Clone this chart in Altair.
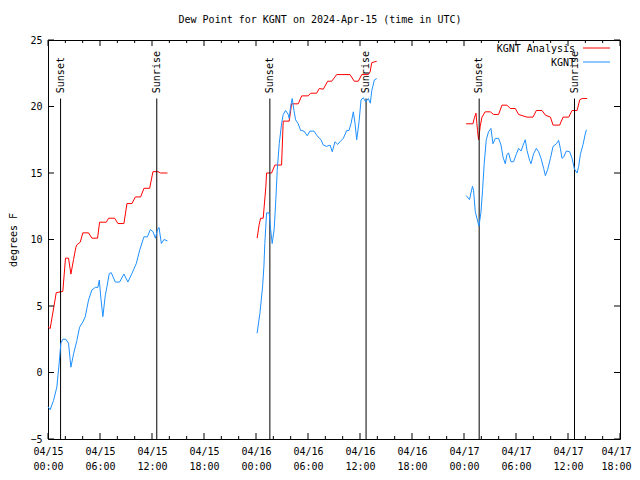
import altair as alt
import pandas as pd

# ---- data (hours after 2024-04-15 00:00 UTC, dew point in F) ----
analysis_hours = [0.0, 0.25, 0.95, 1.71, 2.02, 2.37, 2.64, 2.95, 3.21, 3.33, 3.72, 4.02, 4.68, 5.06, 5.72, 5.95,
                  6.73, 6.99, 7.69, 8.07, 8.76, 9.11, 9.69, 10.08, 10.69, 11.07, 11.73, 12.11, 12.69, 13.0, 13.78,
                  24.13, 24.36, 24.53, 24.83, 25.14, 25.22, 25.80, 26.18, 26.95, 27.14, 27.83, 28.11, 28.87, 29.27,
                  30.03, 30.31, 31.0, 31.30, 31.76, 32.27, 32.73, 33.31, 34.85, 35.34, 35.81, 36.20, 36.96, 37.16,
                  37.36, 37.93,
                  48.25, 49.03, 49.18, 49.38, 49.49, 49.56, 49.68, 49.87, 50.07, 50.45, 51.03, 51.41, 51.99, 52.38,
                  52.96, 53.34, 53.92, 54.30, 55.27, 55.96, 56.35, 57.0, 57.39, 57.97, 58.28, 59.04, 59.43, 60.08,
                  60.47, 61.05, 61.35, 61.63, 62.21]
analysis_dewpt = [3.45, 3.3, 6.0, 6.1, 8.6, 8.6, 7.4, 8.5, 9.4, 9.6, 9.8, 10.5, 10.5, 10.1, 10.1, 11.3,
                  11.3, 11.6, 11.6, 11.2, 11.2, 12.7, 12.7, 13.2, 13.2, 13.85, 13.85, 15.1, 15.1, 15.0, 15.0,
                  10.1, 11.1, 11.6, 11.6, 14.0, 15.0, 15.0, 15.6, 15.6, 18.9, 18.9, 20.2, 20.2, 20.8,
                  20.8, 21.0, 21.0, 21.35, 21.3, 21.9, 21.9, 22.4, 22.4, 21.9, 21.9, 22.4, 22.4, 22.6,
                  23.3, 23.4,
                  18.7, 18.7, 19.1, 19.5, 18.7, 18.2, 17.5, 18.5, 19.2, 19.6, 19.6, 19.4, 19.4, 20.1,
                  20.1, 19.85, 19.85, 19.4, 19.2, 19.2, 19.7, 19.7, 19.35, 19.2, 18.6, 18.6, 19.2, 19.2,
                  19.7, 19.7, 20.5, 20.6, 20.6]

obs_hours = [0.0, 0.25, 0.64, 1.02, 1.29, 1.48, 1.71, 2.06, 2.37, 2.64, 2.95, 3.33, 3.64, 4.02, 4.30, 4.68,
             5.06, 5.46, 5.76, 5.92, 6.10, 6.33, 6.61, 6.80, 7.07, 7.30, 7.77, 8.26, 8.76, 9.22, 9.69, 10.19,
             10.58, 11.07, 11.47, 11.81, 12.11, 12.39, 12.62, 12.81, 13.08, 13.38, 13.78,
             24.13, 24.45, 24.76, 24.91, 25.02, 25.22, 25.52, 25.68, 25.87, 26.10, 26.29, 26.45, 26.68, 26.95,
             27.14, 27.42, 27.72, 27.83, 27.99, 28.18, 28.38, 28.57, 28.87, 29.15, 29.53, 29.91, 30.22, 30.69,
             31.0, 31.18, 31.50, 31.76, 32.15, 32.54, 32.80, 33.11, 33.43, 33.69, 34.07, 34.47, 34.73, 34.96,
             35.23, 35.43, 35.62, 35.89, 36.12, 36.38, 36.66, 36.96, 37.19, 37.36, 37.66, 37.93,
             48.25, 48.64, 48.80, 48.98, 49.10, 49.30, 49.49, 49.72, 49.95, 50.14, 50.33, 50.57, 50.83, 51.11,
             51.34, 51.61, 51.99, 52.27, 52.50, 52.76, 52.96, 53.14, 53.42, 53.72, 54.03, 54.30, 54.58, 54.88,
             55.07, 55.27, 55.57, 55.73, 56.03, 56.35, 56.61, 56.89, 57.19, 57.39, 57.65, 57.97, 58.28, 58.66,
             58.92, 59.12, 59.31, 59.50, 59.81, 60.19, 60.47, 60.74, 61.05, 61.23, 61.43, 61.74, 62.01, 62.13]
obs_dewpt = [-2.57, -2.8, -2.1, -1.1, 0.7, 2.2, 2.5, 2.5, 2.2, 0.4, 1.4, 2.4, 3.4, 3.8, 4.2, 5.45,
             6.2, 6.4, 6.4, 6.95, 5.6, 4.2, 5.8, 6.45, 7.45, 7.5, 6.8, 6.8, 7.4, 6.8, 7.45, 8.2,
             9.2, 10.2, 10.2, 10.75, 10.6, 10.1, 10.7, 10.9, 9.7, 10.0, 9.9,
             2.95, 4.45, 6.45, 7.95, 9.7, 12.0, 12.0, 10.8, 9.7, 10.8, 13.0, 15.2, 17.2, 18.7,
             19.4, 19.7, 19.4, 19.1, 20.0, 20.6, 19.7, 19.0, 18.7, 18.2, 18.15, 17.8, 18.15, 18.15,
             17.85, 17.7, 17.5, 17.1, 17.0, 17.1, 16.6, 17.35, 17.15, 17.35, 17.6, 18.2, 18.2, 18.7,
             19.6, 18.7, 17.5, 18.85, 20.5, 20.65, 20.35, 20.6, 20.25, 21.2, 22.0, 22.1,
             13.3, 13.0, 13.5, 14.0, 13.7, 12.1, 11.6, 11.0, 12.0, 13.7, 15.7, 17.5, 18.1, 18.35,
             17.2, 17.6, 17.6, 17.1, 16.2, 15.7, 16.4, 16.5, 15.85, 15.85, 16.4, 16.85, 16.65, 17.2,
             17.5, 16.7, 15.95, 15.7, 16.45, 16.85, 16.6, 16.1, 15.35, 14.8, 15.25, 16.1, 17.0, 17.2,
             17.45, 16.85, 16.1, 16.2, 16.65, 16.6, 16.1, 15.3, 15.0, 15.5, 16.4, 17.15, 18.0, 18.25]

sun_hours = [1.45, 12.55, 25.6, 36.7, 49.75, 60.75]
sun_labels = ["Sunset", "Sunrise", "Sunset", "Sunrise", "Sunset", "Sunrise"]

series_names = ["KGNT Analysis", "KGNT"]
series_colors = ["#ff0000", "#1e90ff"]

y_ticks = [-5, 0, 5, 10, 15, 20, 25]
x_major = list(range(0, 67, 6))
x_minor = [h for h in range(0, 67, 2) if h % 6]

title_text = "Dew Point for KGNT on 2024-Apr-15 (time in UTC)"

# ---- build ----
W, H = 572, 399
FONT = "DejaVu Sans Mono"
FS = 10
LAST = x_major[-1]


def frame(h, v, name):
    df = pd.DataFrame({"h": h, "v": v, "series": name})
    df["seg"] = (df["h"].diff() > 3).cumsum()
    return df


df_a = frame(analysis_hours, analysis_dewpt, series_names[0])
df_o = frame(obs_hours, obs_dewpt, series_names[1])

xscale = alt.Scale(domain=[0, 66], nice=False, zero=False)
yscale = alt.Scale(domain=[-5, 25], nice=False, zero=False)

label_expr = (
    "['04/' + (15 + floor(datum.value/24)), "
    "(datum.value % 24 < 10 ? '0' : '') + (datum.value % 24) + ':00']"
)
last_test = "datum.value == %d" % LAST

xaxis = alt.Axis(
    values=x_major, ticks=False, domain=False, grid=False, title=None,
    labelExpr=label_expr,
    labelFont=FONT, labelFontSize=FS, labelColor="black", labelPadding=7, labelLineHeight=15,
    labelOverlap=False, labelFlush=False, labelAngle=0, labelBaseline="top",
    labelAlign={"condition": {"test": last_test, "value": "right"}, "value": "center"},
    labelOffset={"condition": {"test": last_test, "value": 11}, "value": 0},
)
yaxis = alt.Axis(
    values=y_ticks, ticks=False, domain=False, grid=False,
    labelFont=FONT, labelFontSize=FS, labelColor="black", labelPadding=6,
    title="degrees F", titleFont=FONT, titleFontSize=FS, titleFontWeight="normal", titleColor="black",
    titleX=-35, titleY=H / 2, titleAngle=270, titleAlign="center", titleBaseline="middle",
)


def X(field="h:Q"):
    return alt.X(field, scale=xscale, axis=xaxis)


def Y(field="v:Q"):
    return alt.Y(field, scale=yscale, axis=yaxis)


red = alt.Chart(df_a).mark_line(color=series_colors[0], strokeWidth=1).encode(
    x=X(), y=Y(), detail="seg:N",
)
blue = alt.Chart(df_o).mark_line(color=series_colors[1], strokeWidth=1).encode(
    x=X(), y=Y(), detail="seg:N",
)

df_sun = pd.DataFrame({"h": sun_hours, "label": sun_labels})
sun_rules = alt.Chart(df_sun).mark_rule(color="black", strokeWidth=1).encode(
    x=X(),
    y=alt.Y(datum=-5, scale=yscale, axis=yaxis),
    y2=alt.Y2(datum=20.6),
)
sun_text = alt.Chart(df_sun).mark_text(
    angle=270, align="left", baseline="middle", font=FONT, fontSize=FS, color="black"
).encode(
    x=X(),
    y=alt.Y(datum=21.0, scale=yscale, axis=yaxis),
    text="label:N",
)

df_yt = pd.DataFrame({"v": y_ticks})
ytick_l = alt.Chart(df_yt).mark_rule(color="black").encode(
    y=Y(), x=alt.value(0), x2=alt.value(6))
ytick_r = alt.Chart(df_yt).mark_rule(color="black").encode(
    y=Y(), x=alt.value(W), x2=alt.value(W - 6))

df_xM = pd.DataFrame({"h": x_major})
df_xm = pd.DataFrame({"h": x_minor})
xtick_layers = []
for d, L in [(df_xM, 6), (df_xm, 3)]:
    xtick_layers.append(alt.Chart(d).mark_rule(color="black").encode(
        x=X(), y=alt.value(H), y2=alt.value(H - L)))
    xtick_layers.append(alt.Chart(d).mark_rule(color="black").encode(
        x=X(), y=alt.value(0), y2=alt.value(L)))

legend_layers = []
for i, (name, col) in enumerate(zip(series_names, series_colors)):
    ly = 9 + 14 * i
    legend_layers.append(alt.Chart(pd.DataFrame({"label": [name]})).mark_text(
        align="right", baseline="middle", font=FONT, fontSize=FS, color="black"
    ).encode(x=alt.value(527), y=alt.value(ly), text="label:N"))
    legend_layers.append(alt.Chart(pd.DataFrame({"label": [name]})).mark_rule(
        color=col, strokeWidth=1
    ).encode(x=alt.value(535), x2=alt.value(562), y=alt.value(ly - 1)))

chart = alt.layer(
    red, ytick_l, ytick_r, *xtick_layers, sun_rules, sun_text, blue, *legend_layers
).properties(
    width=W, height=H,
    autosize=alt.AutoSizeParams(type="none"),
    padding={"left": 40, "top": 32, "right": 12, "bottom": 33},
    title=alt.TitleParams(title_text, font=FONT, fontSize=FS, fontWeight="normal", color="black",
                          anchor="middle", dx=-14, offset=10),
    background="white",
).configure_view(stroke="black", strokeWidth=1)

chart.save("out.html", embed_options={"renderer": "svg", "actions": False})
